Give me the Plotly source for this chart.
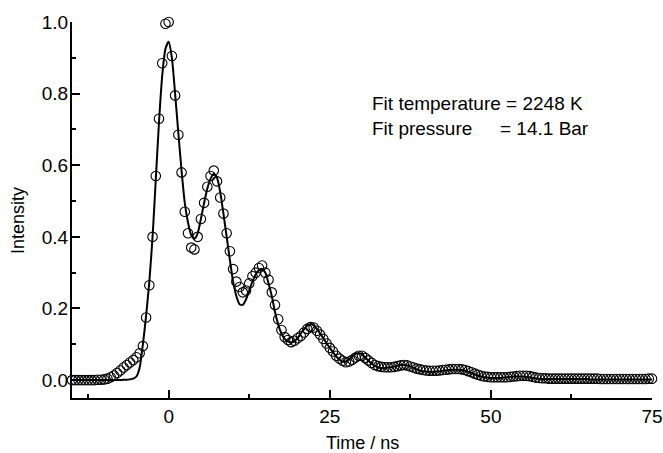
import numpy as np
import plotly.graph_objects as go

# time grid (ns)
time_ns = np.arange(-15, 75.001, 0.5)

measured = [
    0, 0, 0, 0, 0, 0, 0, 0, 0.001, 0.001, 0.002,
    0.004, 0.008, 0.013, 0.02, 0.027, 0.035, 0.042, 0.049, 0.056, 0.064,
    0.075, 0.095, 0.175, 0.265, 0.40, 0.57, 0.73, 0.885, 0.995, 1.0,
    0.905, 0.795, 0.685, 0.58, 0.47, 0.41, 0.37, 0.365, 0.40, 0.45,
    0.495, 0.54, 0.57, 0.585, 0.555, 0.51, 0.465, 0.41, 0.36, 0.31,
    0.275, 0.26, 0.245, 0.25, 0.27, 0.29, 0.30, 0.313, 0.32, 0.30,
    0.28, 0.245, 0.21, 0.17, 0.14, 0.12, 0.112, 0.106, 0.11, 0.117,
    0.123, 0.133, 0.143, 0.148, 0.147, 0.138, 0.127, 0.115, 0.102, 0.09,
    0.08, 0.068, 0.06, 0.054, 0.05, 0.052, 0.057, 0.063, 0.068, 0.068,
    0.062, 0.055, 0.048, 0.042, 0.039, 0.037, 0.036, 0.036, 0.036, 0.037,
    0.039, 0.041, 0.042, 0.041, 0.038, 0.035, 0.032, 0.03, 0.028, 0.027,
    0.026, 0.026, 0.026, 0.027, 0.028, 0.029, 0.030, 0.031, 0.031, 0.031,
    0.030, 0.028, 0.025, 0.022, 0.018, 0.015, 0.012, 0.010, 0.009, 0.008,
    0.008, 0.008, 0.008, 0.008, 0.008, 0.009, 0.010, 0.011, 0.012, 0.012,
    0.012, 0.011, 0.009, 0.007, 0.006, 0.005, 0.005, 0.004, 0.004, 0.004,
    0.004, 0.004, 0.004, 0.004, 0.004, 0.004, 0.004, 0.004, 0.004, 0.004,
    0.004, 0.004, 0.004, 0.003, 0.003, 0.003, 0.003, 0.003, 0.003, 0.003,
    0.003, 0.003, 0.003, 0.003, 0.003, 0.003, 0.003, 0.003, 0.004, 0.004,
]

fit = [
    0, 0, 0, 0, 0, 0, 0, 0, 0, 0, 0,
    0, 0, 0, 0, 0, 0.001, 0.001, 0.002, 0.004, 0.01,
    0.035, 0.10, 0.18, 0.275, 0.40, 0.56, 0.72, 0.85, 0.925, 0.945,
    0.90, 0.80, 0.69, 0.585, 0.495, 0.44, 0.405, 0.395, 0.41, 0.45,
    0.495, 0.535, 0.562, 0.576, 0.565, 0.525, 0.465, 0.40, 0.335, 0.275,
    0.235, 0.212, 0.21, 0.225, 0.25, 0.275, 0.295, 0.307, 0.31, 0.30,
    0.27, 0.235, 0.19, 0.155, 0.13, 0.115, 0.108, 0.105, 0.108, 0.117,
    0.13, 0.142, 0.152, 0.156, 0.153, 0.143, 0.13, 0.117, 0.103, 0.09,
    0.078, 0.066, 0.057, 0.052, 0.052, 0.058, 0.066, 0.073, 0.075, 0.072,
    0.064, 0.054, 0.046, 0.04, 0.036, 0.034, 0.034, 0.035, 0.036, 0.038,
    0.040, 0.042, 0.042, 0.041, 0.038, 0.034, 0.030, 0.027, 0.025, 0.024,
    0.023, 0.023, 0.024, 0.025, 0.026, 0.027, 0.028, 0.029, 0.029, 0.029,
    0.028, 0.026, 0.023, 0.02, 0.016, 0.013, 0.010, 0.008, 0.007, 0.006,
    0.006, 0.006, 0.006, 0.007, 0.008, 0.009, 0.010, 0.010, 0.010, 0.010,
    0.009, 0.008, 0.006, 0.005, 0.004, 0.003, 0.003, 0.003, 0.003, 0.003,
    0.003, 0.003, 0.003, 0.003, 0.003, 0.003, 0.003, 0.003, 0.003, 0.003,
    0.002, 0.002, 0.002, 0.002, 0.002, 0.002, 0.002, 0.002, 0.002, 0.002,
    0.002, 0.002, 0.002, 0.002, 0.002, 0.002, 0.002, 0.002, 0.002, 0.002,
]

x_ticks = [0, 25, 50, 75]
y_ticks = [0.0, 0.2, 0.4, 0.6, 0.8, 1.0]

FONT = "Liberation Sans, Arial, sans-serif"

fig = go.Figure()
fig.add_trace(go.Scatter(
    x=time_ns, y=measured, mode="markers",
    marker=dict(symbol="circle-open", size=9.5, color="black", line=dict(width=1.1, color="black")),
    cliponaxis=False, showlegend=False,
))
fig.add_trace(go.Scatter(
    x=time_ns, y=fit, mode="lines",
    line=dict(color="black", width=2, shape="spline", smoothing=0.6),
    cliponaxis=False, showlegend=False,
))

axis_common = dict(
    showline=True, linecolor="black", linewidth=2, mirror=False,
    showgrid=False, zeroline=False, automargin=False,
    ticks="inside", ticklen=8, tickwidth=2, tickcolor="black",
    tickfont=dict(family=FONT, size=19, color="black"),
)

fig.update_xaxes(range=[-15, 75], tickvals=x_ticks, ticktext=[str(v) for v in x_ticks],
                 minor=dict(ticks="inside", ticklen=4, tickwidth=2, tickcolor="black", dtick=12.5, tick0=0),
                 **axis_common)
fig.update_yaxes(range=[-0.05, 1.0], tickvals=y_ticks, ticktext=[f"{v:.1f}" for v in y_ticks],
                 minor=dict(ticks="inside", ticklen=4, tickwidth=2, tickcolor="black", dtick=0.1, tick0=0),
                 ticklabelstandoff=-2,
                 **axis_common)

fig.update_layout(
    width=663, height=453,
    margin=dict(l=72, r=11, t=22, b=55),
    plot_bgcolor="white", paper_bgcolor="white",
    font=dict(family=FONT, color="black"),
    annotations=[
        dict(text="Time / ns", xref="paper", yref="paper", x=0.5, y=(398 - 443) / 376,
             xanchor="center", yanchor="middle", showarrow=False, font=dict(size=18, family=FONT)),
        dict(text="Intensity", xref="paper", yref="paper", x=(18 - 72) / 580, y=(398 - 221) / 376,
             xanchor="center", yanchor="middle", textangle=-90, showarrow=False, font=dict(size=18, family=FONT)),
        dict(text="Fit temperature = 2248 K", xref="paper", yref="paper", x=(370 - 72) / 580, y=(398 - 103) / 376,
             xanchor="left", yanchor="middle", showarrow=False, font=dict(size=19, family=FONT)),
        dict(text="Fit pressure", xref="paper", yref="paper", x=(370 - 72) / 580, y=(398 - 128) / 376,
             xanchor="left", yanchor="middle", showarrow=False, font=dict(size=19, family=FONT)),
        dict(text="= 14.1 Bar", xref="paper", yref="paper", x=(498 - 72) / 580, y=(398 - 128) / 376,
             xanchor="left", yanchor="middle", showarrow=False, font=dict(size=19, family=FONT)),
    ],
)

# remove the default body margin so the 663x453 figure fills the window exactly
fig.write_html("out.html", config={"displayModeBar": False},
               post_script="document.body.style.margin='0';document.body.style.overflow='hidden';")
